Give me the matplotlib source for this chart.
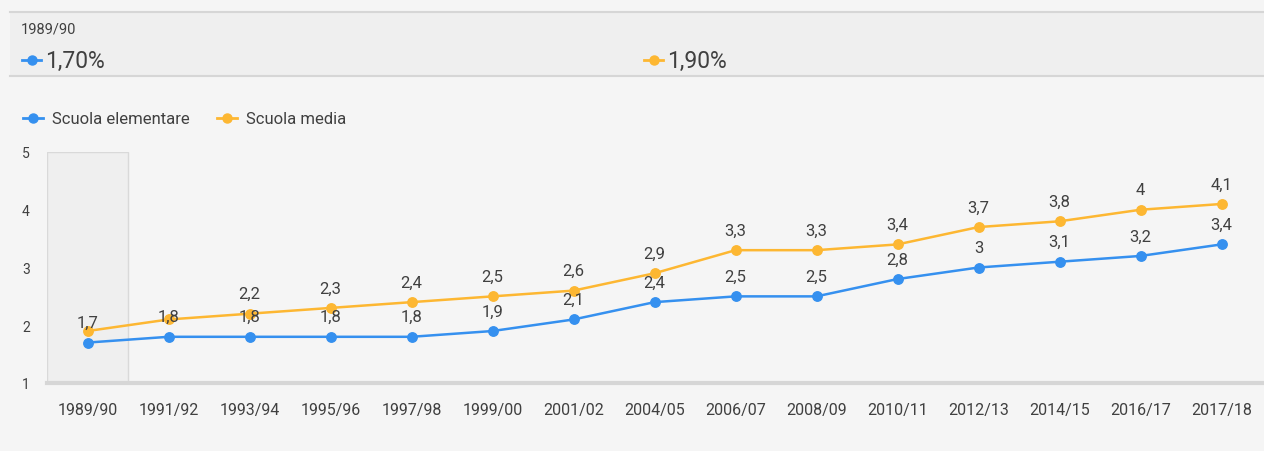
import numpy as np
import matplotlib.pyplot as plt
from matplotlib.patches import Rectangle
from matplotlib.lines import Line2D

plt.rcParams['font.family'] = ['Roboto', 'DejaVu Sans']

years = ['1989/90', '1991/92', '1993/94', '1995/96', '1997/98', '1999/00', '2001/02',
         '2004/05', '2006/07', '2008/09', '2010/11', '2012/13', '2014/15', '2016/17', '2017/18']
elementare = [1.7, 1.8, 1.8, 1.8, 1.8, 1.9, 2.1, 2.4, 2.5, 2.5, 2.8, 3.0, 3.1, 3.2, 3.4]
media = [1.9, 2.1, 2.2, 2.3, 2.4, 2.5, 2.6, 2.9, 3.3, 3.3, 3.4, 3.7, 3.8, 4.0, 4.1]
series_names = ['Scuola elementare', 'Scuola media']
header_values = ['1,70%', '1,90%']
# labels hidden in the original where they collide
hidden_media = [0, 1]

blue = '#3590ef'
orange = '#fdb732'
txt = '#404040'
bg = '#f5f5f5'

W, H = 1264, 452
fig = plt.figure(figsize=(W / 100, H / 100), dpi=100, facecolor=bg)

# header panel
fig.add_artist(Rectangle((10 / W, 1 - 77 / H), 1 - 10 / W, 64 / H, transform=fig.transFigure,
                         facecolor='#efefef', edgecolor='none'))
for yy in [13, 77]:
    fig.add_artist(Line2D([10 / W, 1], [1 - yy / H] * 2, transform=fig.transFigure,
                          color='#d6d6d6', lw=1.5))
fig.text(21 / W, 1 - 29 / H, years[0], fontsize=10.5, color=txt, va='center')
for xh, val, col in [(22, header_values[0], blue), (644, header_values[1], orange)]:
    fig.add_artist(Line2D([xh / W, (xh + 19) / W], [1 - 61 / H] * 2, transform=fig.transFigure,
                          color=col, lw=2))
    fig.add_artist(Line2D([(xh + 9.5) / W], [1 - 61 / H], transform=fig.transFigure,
                          color=col, marker='o', markersize=6.5, lw=0))
    fig.text((xh + 23) / W, 1 - 61 / H, val, fontsize=16.5, color=txt, va='center')

# legend
for xl, name, col in [(23, series_names[0], blue), (217, series_names[1], orange)]:
    fig.add_artist(Line2D([xl / W, (xl + 20) / W], [1 - 119 / H] * 2, transform=fig.transFigure,
                          color=col, lw=2))
    fig.add_artist(Line2D([(xl + 10) / W], [1 - 119 / H], transform=fig.transFigure,
                          color=col, marker='o', markersize=6.5, lw=0))
    fig.text((xl + 29) / W, 1 - 119 / H, name, fontsize=12, color=txt, va='center')

ax = fig.add_axes([47 / W, 1 - 384 / H, 1215 / W, 231 / H])
ax.set_facecolor(bg)
x = np.arange(len(years))

ax.axvspan(-0.5, 0.5, facecolor='#efefef', edgecolor='#d9d9d9', lw=1, zorder=0)

ax.plot(x, media, color=orange, lw=1.8, marker='o', markersize=6.8, zorder=3)
ax.plot(x, elementare, color=blue, lw=1.8, marker='o', markersize=6.8, zorder=3)

def fmt(v):
    return ('%g' % v).replace('.', ',')

for i, v in enumerate(elementare):
    ax.annotate(fmt(v), (x[i], v), xytext=(0, 20), textcoords='offset pixels',
                ha='center', va='center', fontsize=12, color=txt, zorder=4)
for i, v in enumerate(media):
    if i in hidden_media:
        continue
    ax.annotate(fmt(v), (x[i], v), xytext=(0, 20), textcoords='offset pixels',
                ha='center', va='center', fontsize=12, color=txt, zorder=4)

ax.set_xlim(-0.5, len(years) - 0.5)
ax.set_ylim(1, 5)
ax.set_xticks(x)
ax.set_xticklabels(years)
ax.set_yticks([1, 2, 3, 4, 5])
for s in ['top', 'right', 'left']:
    ax.spines[s].set_visible(False)
ax.spines['bottom'].set_color('#d6d6d6')
ax.spines['bottom'].set_linewidth(3)
ax.tick_params(axis='x', length=0, pad=14, labelsize=11.5, labelcolor=txt)
ax.tick_params(axis='y', length=0, pad=18, labelsize=10, labelcolor=txt)
for lab in ax.get_yticklabels():
    lab.set_horizontalalignment('left')

fig.savefig('out.png', dpi=100, facecolor=bg)
